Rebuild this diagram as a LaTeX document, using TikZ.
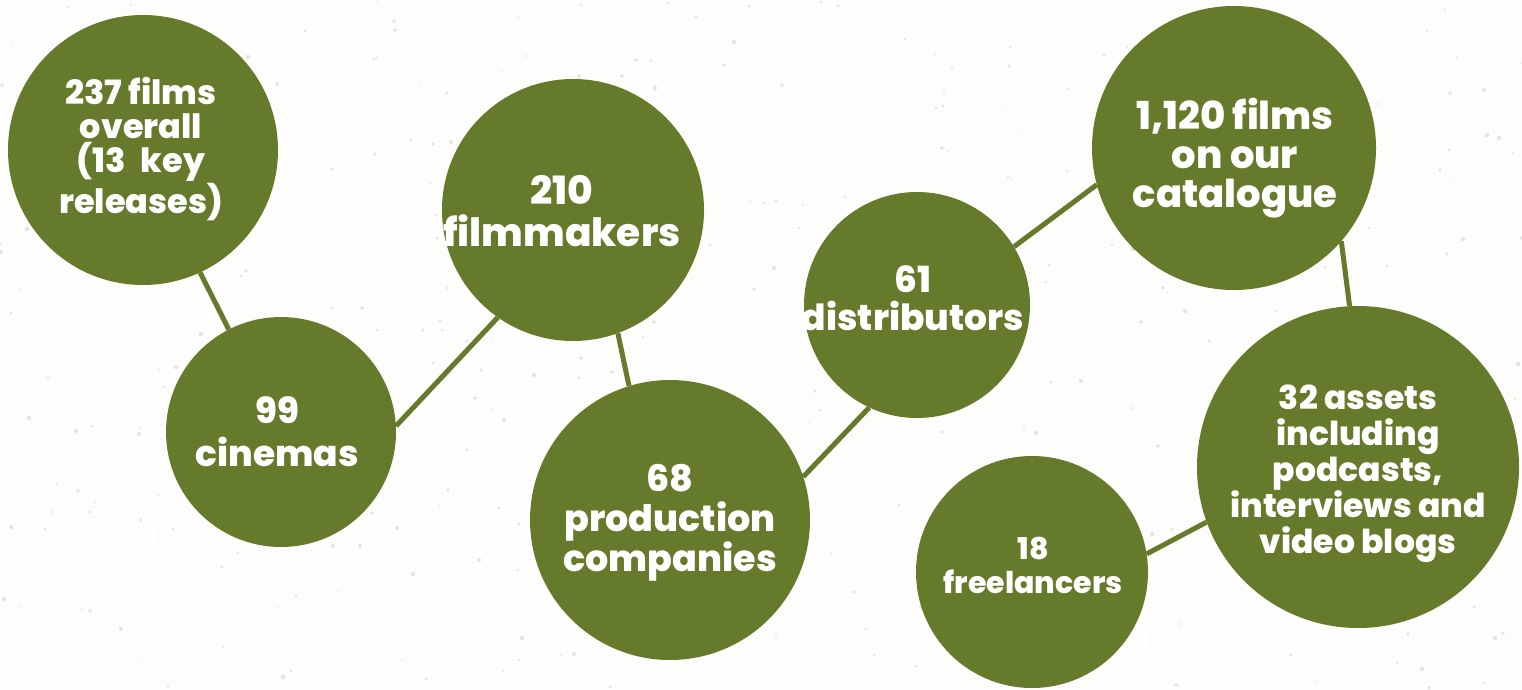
\documentclass[tikz,border=0pt]{standalone}
\usepackage{fontspec}
\setmainfont{Poppins}[BoldFont={Poppins ExtraBold}]
\definecolor{olivegreen}{HTML}{667A2B}
\definecolor{paper}{HTML}{FDFDFC}
\definecolor{speck}{HTML}{E4E4E4}
\tikzset{
  bubble/.style={circle, fill=olivegreen, inner sep=0pt},
  btext/.style 2 args={text=white, align=center, inner sep=0pt, font={\bfseries\fontsize{#1}{#2}\selectfont}},
  link/.style={draw=olivegreen, line width=5pt}
}
\begin{document}
\begin{tikzpicture}[x=1pt,y=-1pt]
\fill[paper] (0,0) rectangle (1522,690);
\useasboundingbox (0,0) rectangle (1522,690);
\pgfmathsetseed{4217}
\foreach \i in {1,...,420}{
  \pgfmathsetmacro\xx{random(0,1522)}
  \pgfmathsetmacro\yy{random(0,690)}
  \pgfmathsetmacro\rr{0.6+1.6*rnd}
  \fill[speck] (\xx,\yy) circle[radius=\rr];
}
\node[bubble, minimum size=270pt] (c1) at (143,150) {};
\node[bubble, minimum size=230pt] (c2) at (281,432) {};
\node[bubble, minimum size=262pt] (c3) at (573,210) {};
\node[bubble, minimum size=280pt] (c4) at (670,520) {};
\node[bubble, minimum size=226pt] (c5) at (917,305) {};
\node[bubble, minimum size=284pt] (c6) at (1234,148) {};
\node[bubble, minimum size=322pt] (c7) at (1358,467) {};
\node[bubble, minimum size=232pt] (c8) at (1032,572) {};
\node[btext={33.5}{34}] (t1) at (141,149) {237 films\\overall\\(13\hspace{0.25em} key\\releases)};
\node[btext={36}{43}] (t2) at (277,432) {99\\cinemas};
\node[btext={39}{42}] (t3) at (562,211) {210\\filmmakers};
\node[btext={36.5}{40}] (t4) at (670,523) {68\\production\\companies};
\node[btext={36}{38}] (t5) at (913,298.5) {61\\distributors};
\node[btext={38.5}{39}] (t6) at (1235,158) {1,120 films\\on our\\catalogue};
\node[btext={33}{36}] (t7) at (1358,474) {32 assets\\including\\podcasts,\\interviews and\\video blogs};
\node[btext={30}{34}] (t8) at (1033,565) {18\\freelancers};
\draw[link] (c1.295) -- (c2.117);
\draw[link] (c2.3.5) -- (c3.235);
\draw[link] (c3.290) -- (c4.107);
\draw[link] (c4.18) -- (c5.245);
\draw[link] (c5.31.5) -- (c6.195);
\draw[link] (c6.319) -- (c7.93.5);
\draw[link] (c7.200) -- (c8.9);
\end{tikzpicture}
\end{document}
